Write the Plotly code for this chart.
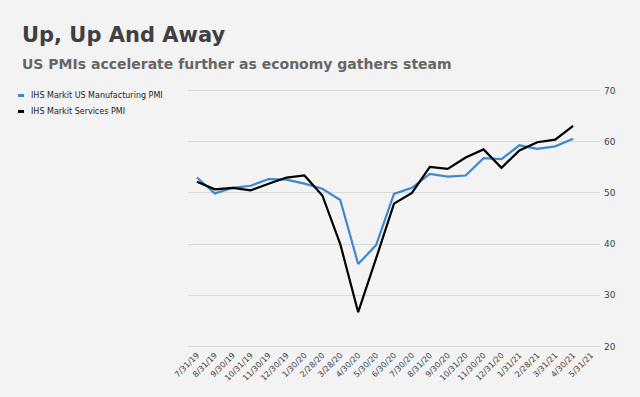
import plotly.graph_objects as go

dates = ["7/31/19", "8/31/19", "9/30/19", "10/31/19", "11/30/19", "12/30/19", "1/30/20",
         "2/28/20", "3/28/20", "4/30/20", "5/30/20", "6/30/20", "7/30/20", "8/31/20",
         "9/30/20", "10/31/20", "11/30/20", "12/31/20", "1/31/21", "2/28/21", "3/31/21",
         "4/30/21", "5/31/21"]
manufacturing = [53.0, 49.9, 51.0, 51.4, 52.7, 52.6, 51.8, 50.8, 48.6, 36.1, 39.8, 49.8,
                 51.0, 53.7, 53.2, 53.4, 56.8, 56.6, 59.3, 58.6, 59.1, 60.6]
services = [52.2, 50.7, 51.0, 50.5, 51.8, 53.0, 53.4, 49.5, 40.0, 26.7, 37.2, 47.9,
            50.0, 55.1, 54.7, 56.9, 58.5, 54.9, 58.3, 59.9, 60.4, 63.1]
series_names = ["IHS Markit US Manufacturing PMI", "IHS Markit Services PMI"]
colors = ["#3f88cc", "#000000"]
yticks = [20, 30, 40, 50, 60, 70]

FONT = "DejaVu Sans"
fig = go.Figure()
for name, vals, c in zip(series_names, [manufacturing, services], colors):
    fig.add_trace(go.Scatter(x=dates[:len(vals)], y=vals, mode="lines", name=name,
                             line=dict(color=c, width=2.2), showlegend=False))

W, H = 640, 397
ml, mr, mt, mb = 188, 40, 88.5, 49
pw = W - ml - mr
ph = H - mt - mb

def px2paper(x, y):
    return (x - ml) / pw, (H - mb - y) / ph

anns = [
    dict(text="<b>Up, Up And Away</b>", xref="paper", yref="paper",
         x=px2paper(20, 0)[0], y=px2paper(0, 34)[1], xanchor="left", yanchor="middle",
         showarrow=False, font=dict(family=FONT, size=21, color="#404040")),
    dict(text="<b>US PMIs accelerate further as economy gathers steam</b>", xref="paper", yref="paper",
         x=px2paper(20, 0)[0], y=px2paper(0, 63)[1], xanchor="left", yanchor="middle",
         showarrow=False, font=dict(family=FONT, size=14, color="#666666")),
]
shapes = []
for i, (name, c) in enumerate(zip(series_names, colors)):
    ly = 95 + 16 * i
    x0, _ = px2paper(18, ly)
    x1, yy = px2paper(24, ly)
    shapes.append(dict(type="line", xref="paper", yref="paper", x0=x0, x1=x1, y0=yy, y1=yy,
                       line=dict(color=c, width=3)))
    anns.append(dict(text=name, xref="paper", yref="paper", x=px2paper(29, 0)[0], y=yy,
                     xanchor="left", yanchor="middle", showarrow=False,
                     font=dict(family=FONT, size=8, color="#222222")))

fig.update_layout(
    width=W, height=H,
    margin=dict(l=ml, r=mr, t=mt, b=mb),
    paper_bgcolor="#f3f3f3", plot_bgcolor="#f3f3f3",
    annotations=anns, shapes=shapes,
    xaxis=dict(type="category", categoryorder="array", categoryarray=dates,
               tickmode="array", tickvals=dates, ticktext=dates, range=[-0.5, len(dates) - 0.5],
               tickangle=-45, tickfont=dict(family=FONT, size=8, color="#404040"),
               showgrid=False, showline=False, ticks="", zeroline=False),
    yaxis=dict(side="right", range=[19.7, 70.3], tickvals=yticks, showgrid=True,
               gridcolor="#d9d9d9", gridwidth=1, zeroline=False, showline=False,
               tickfont=dict(family=FONT, size=9, color="#404040"), ticks="",
               ticklabelstandoff=3),
    font=dict(family=FONT),
)
fig.write_html("out.html", config={"displayModeBar": False},
               post_script="document.body.style.margin='0';document.body.style.background='#f3f3f3';")
